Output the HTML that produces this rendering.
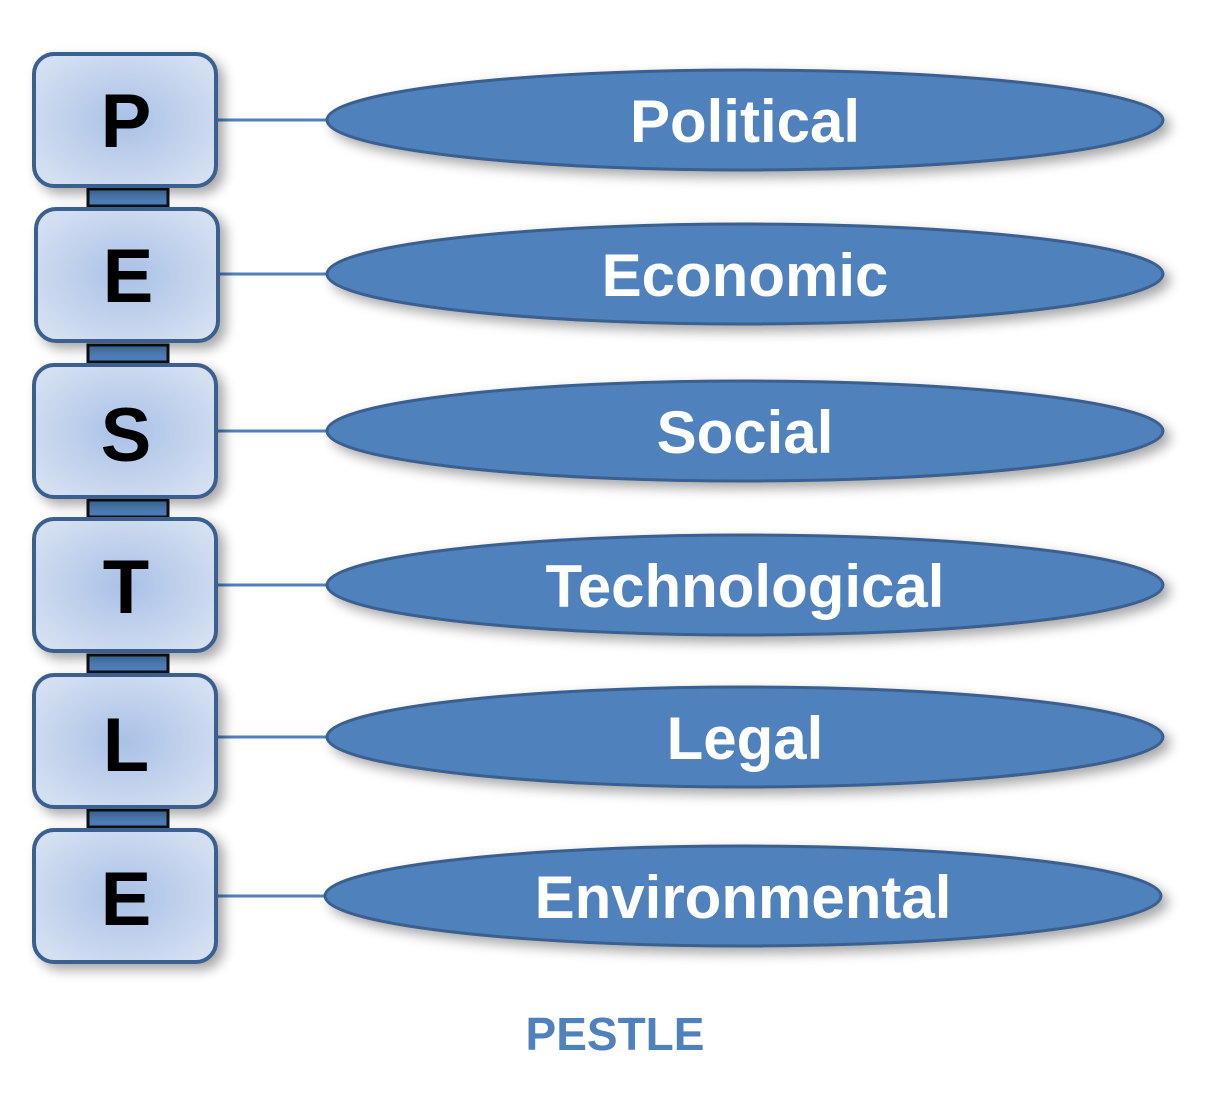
<!DOCTYPE html>
<html><head><style>body{margin:0;background:#fff}</style></head><body>
<svg width="1230" height="1103" viewBox="0 0 1230 1103" xmlns="http://www.w3.org/2000/svg">
<defs>
<radialGradient id="g" cx="50%" cy="50%" r="60%">
<stop offset="0" stop-color="#a9c1e6"/><stop offset="1" stop-color="#d4dff1"/>
</radialGradient>
<filter id="s" x="-20%" y="-30%" width="140%" height="160%"><feGaussianBlur in="SourceAlpha" stdDeviation="6"/><feOffset dx="6" dy="6"/><feComponentTransfer><feFuncA type="linear" slope="0.35"/></feComponentTransfer><feMerge><feMergeNode/><feMergeNode in="SourceGraphic"/></feMerge></filter>
</defs>
<g font-family="Liberation Sans, sans-serif" font-weight="bold">
<!-- connectors between boxes -->
<g fill="#4f81bd" stroke="#111" stroke-width="3">
<rect x="88" y="189" width="80" height="17"/>
<rect x="88" y="345" width="80" height="17"/>
<rect x="88" y="500" width="80" height="17"/>
<rect x="88" y="655" width="80" height="17"/>
<rect x="88" y="810" width="80" height="17"/>
</g>
<g stroke="#4f81bd" stroke-width="3">
<line x1="216" y1="120" x2="330" y2="120"/>
<line x1="218" y1="274" x2="330" y2="274"/>
<line x1="216" y1="431" x2="330" y2="431"/>
<line x1="216" y1="585" x2="330" y2="585"/>
<line x1="216" y1="737" x2="330" y2="737"/>
<line x1="216" y1="896" x2="328" y2="896"/>
</g>
<g fill="url(#g)" stroke="#3a5f8f" stroke-width="4" filter="url(#s)">
<rect x="34" y="54" width="182" height="132" rx="20"/>
<rect x="36" y="209" width="182" height="132" rx="20"/>
<rect x="34" y="365" width="182" height="132" rx="20"/>
<rect x="34" y="519" width="182" height="132" rx="20"/>
<rect x="34" y="675" width="182" height="132" rx="20"/>
<rect x="34" y="830" width="182" height="132" rx="20"/>
</g>
<g font-size="76" text-anchor="middle" fill="#000">
<text x="126" y="147">P</text>
<text x="128" y="302">E</text>
<text x="126" y="461">S</text>
<text x="126" y="613">T</text>
<text x="126" y="771">L</text>
<text x="126" y="925">E</text>
</g>
<g fill="#4f81bd" stroke="#3a5f8f" stroke-width="3" filter="url(#s)">
<ellipse cx="745" cy="120" rx="418" ry="50"/>
<ellipse cx="745" cy="274" rx="418" ry="50"/>
<ellipse cx="745" cy="431" rx="418" ry="50"/>
<ellipse cx="745" cy="585" rx="418" ry="50"/>
<ellipse cx="745" cy="737" rx="418" ry="50"/>
<ellipse cx="743" cy="896" rx="418" ry="50"/>
</g>
<g font-size="60" text-anchor="middle" fill="#fff">
<text x="745" y="142">Political</text>
<text x="745" y="296">Economic</text>
<text x="745" y="453">Social</text>
<text x="745" y="607">Technological</text>
<text x="745" y="759">Legal</text>
<text x="743" y="918">Environmental</text>
</g>
<text x="615" y="1050" font-size="46" text-anchor="middle" fill="#4f81bd">PESTLE</text>
</g>
</svg>
</body></html>
